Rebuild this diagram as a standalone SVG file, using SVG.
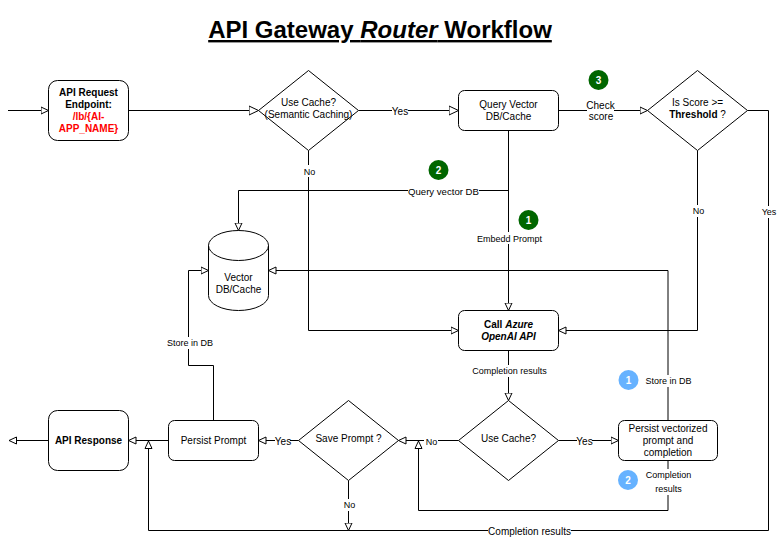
<svg xmlns="http://www.w3.org/2000/svg" width="777" height="539" viewBox="0 0 777 539">
<style>
text{font-family:"Liberation Sans",Arial,sans-serif;font-size:10px;fill:#000;text-anchor:middle}
.b{font-weight:700}
.i{font-style:italic}
.e{font-size:9px}
.s{fill:#fff;stroke:#000;stroke-width:1}
.c{fill:none;stroke:#000;stroke-width:1;marker-end:url(#a)}
.cb{fill:none;stroke:#000;stroke-width:1;marker-end:url(#A)}
.n{fill:none;stroke:#000;stroke-width:1}
.bg{fill:#fff}
.w{fill:#fff;font-weight:700}
.g{fill:#006600}
.l{fill:#66b2ff}
</style>
<defs>
<marker id="a" markerUnits="userSpaceOnUse" markerWidth="10" markerHeight="10" refX="8" refY="5" orient="auto"><path d="M0.5 1.5L8 5L0.5 8.5Z" fill="#fff" stroke="#000"/></marker>
<marker id="A" markerUnits="userSpaceOnUse" markerWidth="12" markerHeight="12" refX="10" refY="6" orient="auto"><path d="M0.5 1.5L10 6L0.5 10.5Z" fill="#fff" stroke="#000"/></marker>
</defs>
<text id="title" x="380" y="38" class="b" style="font-size:24px;text-decoration:underline">API Gateway <tspan class="i">Router</tspan> Workflow</text>
<g id="connectors">
<path class="c" d="M8 110.5H48.5"/>
<path class="cb" d="M128.5 110.5H258.5"/>
<path class="cb" d="M358.5 110.5H458.5"/>
<path class="c" d="M558.5 110.5H647.5"/>
<path class="c" d="M747.5 110.5H768.5V530.5H148.5V441"/>
<path class="c" d="M508.5 130.5V310.5"/>
<path class="c" d="M508.5 190.5H238.5V230.5"/>
<path class="c" d="M308.5 150.5V330.5H458.5"/>
<path class="c" d="M697.5 150.5V330.5H558.5"/>
<path class="c" d="M508.5 350.5V400.5"/>
<path class="c" d="M558.5 440.5H618.5"/>
<path class="c" d="M458.5 440.5H398.5"/>
<path class="c" d="M668 420.5V270.5H268.5"/>
<path class="c" d="M668 460.5V510.5H418.5V441"/>
<path class="c" d="M298.5 440.5H258.5"/>
<path class="c" d="M348.5 480.5V530.5"/>
<path class="c" d="M168.5 440.5H128.5"/>
<path class="c" d="M48.5 440.5H9"/>
<path class="c" d="M213.5 420.5V365.5H188.5V270.5H208.5"/>
<g id="edge-labels">
<rect class="bg" x="392" y="105" width="16" height="11"/><text x="400" y="115">Yes</text>
<rect class="bg" x="587" y="99" width="27" height="25"/><text x="600.500" y="109">Check</text><text x="601" y="120">score</text>
<rect class="bg" x="304" y="165" width="11" height="12"/><text class="e" x="309.500" y="175">No</text>
<rect class="bg" x="408" y="185" width="71" height="12"/><text x="443.500" y="195" style="font-size:9.6px">Query vector DB</text>
<rect class="bg" x="477" y="232" width="65" height="12"/><text class="e" x="509.500" y="241.500">Embedd Prompt</text>
<rect class="bg" x="692" y="205" width="12" height="12"/><text class="e" x="698.500" y="214">No</text>
<rect class="bg" x="761" y="206" width="16" height="12"/><text class="e" x="769" y="215">Yes</text>
<rect class="bg" x="472" y="365" width="75" height="12"/><text class="e" x="509.500" y="374">Completion results</text>
<rect class="bg" x="645" y="375" width="47" height="12"/><text class="e" x="668.500" y="384">Store in DB</text>
<rect class="bg" x="167" y="337" width="46" height="12"/><text class="e" x="190" y="346">Store in DB</text>
<rect class="bg" x="424" y="435" width="14" height="12"/><text class="e" x="431.500" y="445">No</text>
<rect class="bg" x="577" y="435" width="15" height="12"/><text x="584.500" y="445">Yes</text>
<rect class="bg" x="275" y="435" width="15" height="12"/><text x="283" y="445">Yes</text>
<rect class="bg" x="343" y="499" width="12" height="12"/><text class="e" x="349.500" y="508">No</text>
<rect class="bg" x="645" y="469" width="47" height="26"/><text class="e" x="668.500" y="478">Completion</text><text class="e" x="668.500" y="492">results</text>
<rect class="bg" x="488" y="526" width="83" height="11"/><text x="529.500" y="535">Completion results</text>
</g>
</g>
<g id="api-request"><rect class="s" x="48.500" y="80.500" width="80" height="60" rx="9"/><text class="b" x="88.500" y="96">API Request</text><text class="b" x="88.500" y="108">Endpoint:</text><text class="b" x="88.500" y="120" style="fill:#ff0000">/lb/{AI-</text><text class="b" x="88.500" y="132" style="fill:#ff0000">APP_NAME}</text></g>
<g id="use-cache-semantic"><path class="s" d="M308.500 70.500L358.500 110.500L308.500 150.500L258.500 110.500Z"/><text x="308.500" y="106">Use Cache?</text><text x="308.500" y="118">(Semantic Caching)</text></g>
<g id="query-vector"><rect class="s" x="458.500" y="90.500" width="100" height="40" rx="6"/><text x="508.500" y="108">Query Vector</text><text x="508.500" y="120">DB/Cache</text></g>
<g id="threshold"><path class="s" d="M697.500 70.500L747.500 110.500L697.500 150.500L647.500 110.500Z"/><text x="697.500" y="106">Is Score &gt;=</text><text x="697.500" y="118"><tspan class="b">Threshold</tspan> ?</text></g>
<g id="vector-db"><path class="s" d="M208.500 245.500A30 15 0 0 1 268.500 245.500V295.500A30 15 0 0 1 208.500 295.500Z"/><path class="n" d="M208.500 245.500A30 15 0 0 0 268.500 245.500"/><text x="238.500" y="281">Vector</text><text x="238.500" y="293">DB/Cache</text></g>
<g id="call-azure"><rect class="s" x="458.500" y="310.500" width="100" height="40" rx="6"/><text class="b" x="508.500" y="328">Call <tspan class="i">Azure</tspan></text><text class="b i" x="508.500" y="340">OpenAI API</text></g>
<g id="use-cache"><path class="s" d="M508.500 400.500L558.500 440.500L508.500 480.500L458.500 440.500Z"/><text x="508.500" y="442">Use Cache?</text></g>
<g id="persist-vectorized"><rect class="s" x="618.500" y="420.500" width="99" height="40" rx="6"/><text x="668" y="432">Persist vectorized</text><text x="668" y="444">prompt and</text><text x="668" y="456">completion</text></g>
<g id="save-prompt"><path class="s" d="M348.500 400.500L398.500 440.500L348.500 480.500L298.500 440.500Z"/><text x="348.500" y="442">Save Prompt ?</text></g>
<g id="persist-prompt"><rect class="s" x="168.500" y="420.500" width="90" height="40" rx="6"/><text x="213.500" y="444">Persist Prompt</text></g>
<g id="api-response"><rect class="s" x="48.500" y="410.500" width="80" height="60" rx="9"/><text class="b" x="88.500" y="444">API Response</text></g>
<g id="badge-g3"><circle class="g" cx="598.500" cy="80" r="10"/><text class="w" x="598.500" y="83.500">3</text></g>
<g id="badge-g2"><circle class="g" cx="438.500" cy="170" r="10"/><text class="w" x="438.500" y="173.500">2</text></g>
<g id="badge-g1"><circle class="g" cx="528.500" cy="220" r="10"/><text class="w" x="528.500" y="223.500">1</text></g>
<g id="badge-b1"><circle class="l" cx="628.500" cy="380" r="10"/><text class="w" x="628.500" y="383.500">1</text></g>
<g id="badge-b2"><circle class="l" cx="628" cy="480" r="10"/><text class="w" x="628" y="483.500">2</text></g>
</svg>
